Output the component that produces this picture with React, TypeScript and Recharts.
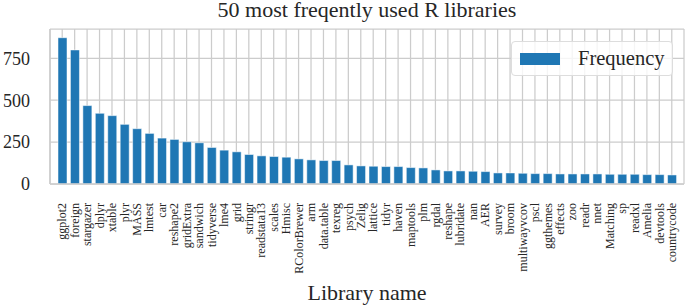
import { BarChart, Bar, XAxis, YAxis, CartesianGrid } from "recharts";

const LIBRARIES = [
  "ggplot2", "foreign", "stargazer", "dplyr", "xtable", "plyr", "MASS", "lmtest", "car", "reshape2",
  "gridExtra", "sandwich", "tidyverse", "lme4", "grid", "stringr", "readstata13", "scales", "Hmisc", "RColorBrewer",
  "arm", "data.table", "texreg", "psych", "Zelig", "lattice", "tidyr", "haven", "maptools", "plm",
  "rgdal", "reshape", "lubridate", "nan", "AER", "survey", "broom", "multiwayvcov", "pscl", "ggthemes",
  "effects", "zoo", "readr", "nnet", "Matching", "sp", "readxl", "Amelia", "devtools", "countrycode",
];

const FREQUENCY = [
  873, 800, 468, 422, 408, 356, 330, 302, 274, 266,
  252, 246, 218, 202, 192, 176, 168, 164, 160, 150,
  144, 140, 140, 114, 108, 106, 104, 104, 98, 96,
  84, 78, 78, 76, 74, 66, 66, 64, 62, 62,
  60, 60, 60, 60, 58, 58, 58, 56, 56, 54,
];

const Y_TICKS = [0, 250, 500, 750];

const BLUE = "#1f77b4";
const GRID = "#cccccc";
const TEXT = "#262626";

const data = LIBRARIES.map((name, i) => ({ name, Frequency: FREQUENCY[i] }));

const LibTick = ({ x, y, payload }: any) => (
  <text
    x={x}
    y={y}
    transform={`rotate(-90, ${x}, ${y})`}
    textAnchor="end"
    dy="0.35em"
    fontSize={12}
    fill={TEXT}
  >
    {payload.value}
  </text>
);

export default function App() {
  return (
    <div
      style={{
        position: "absolute",
        left: 0,
        top: 0,
        width: 685,
        height: 305,
        background: "#fff",
        fontFamily: "'Liberation Serif', 'Times New Roman', serif",
      }}
    >
      <div
        style={{
          position: "absolute",
          left: 50,
          top: 2,
          width: 634,
          textAlign: "center",
          fontSize: 22,
          lineHeight: "15px",
          color: TEXT,
          whiteSpace: "nowrap",
        }}
      >
        50 most freqently used R libraries
      </div>
      <BarChart width={685} height={305} data={data} margin={{ top: 29, right: 1, left: 0, bottom: 0 }}>
        <CartesianGrid stroke={GRID} strokeWidth={1.25} />
        <XAxis
          dataKey="name"
          interval={0}
          height={121}
          padding={{ left: 6, right: 6 }}
          tickLine={false}
          tickSize={0}
          tickMargin={19}
          tick={<LibTick />}
          axisLine={{ stroke: GRID, strokeWidth: 1.5 }}
          label={{ value: "Library name", position: "insideBottom", offset: 5, fontSize: 22, fill: TEXT }}
        />
        <XAxis xAxisId="top" dataKey="name" orientation="top" height={0} tick={false} tickLine={false} axisLine={{ stroke: GRID, strokeWidth: 1.5 }} />
        <YAxis
          width={50}
          domain={[0, 925]}
          ticks={Y_TICKS}
          tickLine={false}
          tickSize={0}
          tickMargin={20}
          axisLine={{ stroke: GRID, strokeWidth: 1.5 }}
          tick={{ fontSize: 18, fill: TEXT }}
        />
        <YAxis yAxisId="right" orientation="right" width={0} tick={false} tickLine={false} axisLine={{ stroke: GRID, strokeWidth: 1.5 }} />
        <Bar dataKey="Frequency" fill={BLUE} barSize={9} stroke="#ffffff" strokeWidth={0.5} isAnimationActive={false} />
      </BarChart>
      <div
        style={{
          position: "absolute",
          left: 511,
          top: 41,
          width: 162,
          height: 35,
          boxSizing: "border-box",
          border: "1px solid #dddddd",
          borderRadius: 4,
          background: "rgba(255,255,255,0.8)",
          display: "flex",
          alignItems: "center",
          fontSize: 20.5,
          color: TEXT,
        }}
      >
        <span style={{ display: "inline-block", width: 40, height: 12, background: BLUE, marginLeft: 8, marginRight: 18 }} />
        <span>Frequency</span>
      </div>
    </div>
  );
}
